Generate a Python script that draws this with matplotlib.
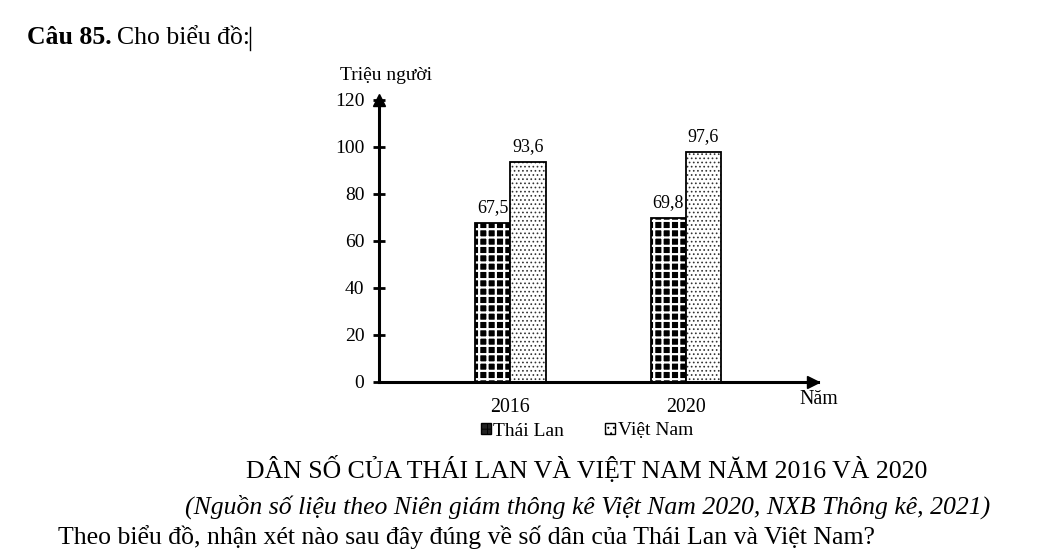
import numpy as np
import matplotlib
matplotlib.use("Agg")
import matplotlib.pyplot as plt
from matplotlib.patches import Patch
from matplotlib.lines import Line2D

plt.rcParams["font.family"] = ["Liberation Serif", "DejaVu Serif"]

years = ["2016", "2020"]
thai_lan = [67.5, 69.8]
viet_nam = [93.6, 97.6]
series_names = ["Thái Lan", "Việt Nam"]
y_ticks = [0, 20, 40, 60, 80, 100, 120]

fig = plt.figure(figsize=(10.48, 5.59), dpi=100)
ax = fig.add_axes([0.3616, 0.3172, 0.4189, 0.5044])

x = np.arange(len(years))
w = 0.2

# Thai Lan: black squares with white grid
ax.bar(x - w / 2, thai_lan, w, color="black", linewidth=0)
plt.rcParams["hatch.linewidth"] = 1.6
ax.bar(x - w / 2, thai_lan, w, color="none", edgecolor="white", hatch="++", linewidth=0)
b1 = ax.bar(x - w / 2, thai_lan, w, color="none", edgecolor="black", linewidth=1.3)

# Viet Nam: light dotted
plt.rcParams["hatch.linewidth"] = 0.7
ax.bar(x + w / 2, viet_nam, w, color="white", edgecolor="#333333", hatch="....", linewidth=0)
b2 = ax.bar(x + w / 2, viet_nam, w, color="none", edgecolor="black", linewidth=1.3)

for bars, vals in [(b1, thai_lan), (b2, viet_nam)]:
    ax.bar_label(bars, labels=[f"{v:.1f}".replace(".", ",") for v in vals],
                 padding=5, fontsize=13)

ax.set_xlim(-0.749, 1.752)
ax.set_ylim(0, 120)
ax.set_yticks(y_ticks)
ax.set_xticks(x)
ax.set_xticklabels(years)
ax.tick_params(axis="x", length=0, pad=12, labelsize=14.3)
ax.tick_params(axis="y", direction="inout", length=9, width=2, pad=6, labelsize=14)
for s in ["top", "right"]:
    ax.spines[s].set_visible(False)
for s in ["left", "bottom"]:
    ax.spines[s].set_linewidth(2.2)

ax.plot([0], [1], marker="^", color="black", markersize=9, transform=ax.transAxes, clip_on=False)
ax.plot([0.988], [0], marker=">", color="black", markersize=9, transform=ax.transAxes, clip_on=False)

fig.text(386 / 1048, 1 - 76 / 559, "Triệu người", ha="center", va="center", fontsize=14)
fig.text(819 / 1048, 1 - 399 / 559, "Năm", ha="center", va="center", fontsize=14.3)

handles = [Patch(facecolor="#222222", edgecolor="black", hatch="++"),
           Patch(facecolor="white", edgecolor="black", hatch="...")]
fig.legend(handles, series_names, loc="center", bbox_to_anchor=(587 / 1048, 1 - 431 / 559),
           ncol=2, frameon=False, fontsize=14, handlelength=0.5, handleheight=0.5,
           handletextpad=0.15, columnspacing=2.1)

fig.text(27 / 1048, 1 - 38 / 559, "Câu 85.", fontsize=18.5, fontweight="bold", va="center")
fig.text(117 / 1048, 1 - 38 / 559, "Cho biểu đồ:", fontsize=18.5, va="center")
fig.add_artist(Line2D([250 / 1048, 250 / 1048], [1 - 27 / 559, 1 - 50 / 559],
                      color="black", linewidth=1))
fig.text(587 / 1048, 1 - 470 / 559, "DÂN SỐ CỦA THÁI LAN VÀ VIỆT NAM NĂM 2016 VÀ 2020",
         ha="center", va="center", fontsize=18.5)
fig.text(588 / 1048, 1 - 507 / 559,
         "(Nguồn số liệu theo Niên giám thông kê Việt Nam 2020, NXB Thông kê, 2021)",
         ha="center", va="center", fontsize=18.5, style="italic")
fig.text(58 / 1048, 1 - 537 / 559,
         "Theo biểu đồ, nhận xét nào sau đây đúng về số dân của Thái Lan và Việt Nam?",
         ha="left", va="center", fontsize=18.5)

fig.savefig("out.png", dpi=100)
